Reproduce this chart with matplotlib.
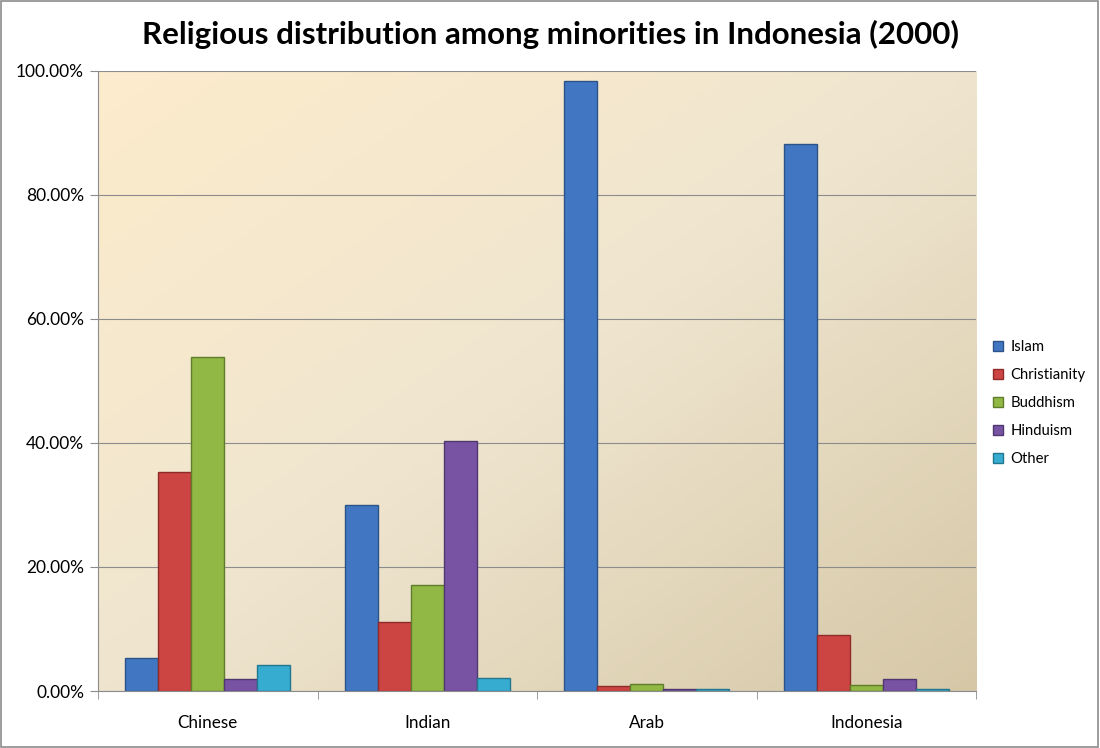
import numpy as np
import matplotlib.pyplot as plt
from matplotlib.colors import LinearSegmentedColormap
from matplotlib.patches import Patch

groups = ["Chinese", "Indian", "Arab", "Indonesia"]
religions = ["Islam", "Christianity", "Buddhism", "Hinduism", "Other"]
islam = [5.4, 30.0, 98.4, 88.2]
christianity = [35.3, 11.1, 0.8, 9.0]
buddhism = [53.9, 17.1, 1.1, 0.9]
hinduism = [1.9, 40.3, 0.3, 1.9]
other = [4.2, 2.1, 0.3, 0.3]
y_ticks = [0, 20, 40, 60, 80, 100]

series = [islam, christianity, buddhism, hinduism, other]
colors = ["#4177c2", "#cc4542", "#91b745", "#7853a4", "#36acd0"]
edges = ["#2b5387", "#8f2b29", "#5f7d2a", "#4f3870", "#22778f"]

plt.rcParams['font.family'] = ['Lato', 'DejaVu Sans']

fig = plt.figure(figsize=(11, 7.48), dpi=100)
ax = fig.add_axes([0.0891, 0.0762, 0.7982, 0.8289])

# gradient background, light top-left to tan bottom-right
n = 200
xx, yy = np.meshgrid(np.linspace(0, 1, n), np.linspace(0, 1, n))
t = np.clip((xx + yy) / 2, 0, 1)
cmap = LinearSegmentedColormap.from_list("bg", ["#fdeccc", "#efe5cf", "#d6c8a7"])
ax.imshow(t, cmap=cmap, extent=[0, 1, 0, 1], transform=ax.transAxes,
          aspect='auto', origin='upper', zorder=0)

x = np.arange(len(groups))
w = 0.15
for i, vals in enumerate(series):
    ax.bar(x + (i - 2) * w, vals, width=w, color=colors[i], edgecolor=edges[i],
           linewidth=1, zorder=3, label=religions[i])

ax.set_xlim(-0.5, len(groups) - 0.5)
ax.set_ylim(0, 100)
ax.set_yticks(y_ticks)
ax.set_yticklabels(["%.2f%%" % v for v in y_ticks], fontsize=12.5)
ax.yaxis.grid(True, color="#8c8c8c", linewidth=0.8, zorder=1)
ax.set_axisbelow(False)

ax.set_xticks(x)
ax.set_xticklabels(groups, fontsize=12.3)
ax.tick_params(axis='x', length=0, pad=17)
ax.set_xticks(np.arange(-0.5, len(groups), 1), minor=True)
ax.tick_params(axis='x', which='minor', length=6, color="#8c8c8c")
ax.tick_params(axis='y', length=6, color="#8c8c8c", pad=4)

for s in ["top", "right"]:
    ax.spines[s].set_visible(False)
for s in ["left", "bottom"]:
    ax.spines[s].set_color("#8c8c8c")
    ax.spines[s].set_zorder(4)

fig.suptitle("Religious distribution among minorities in Indonesia (2000)",
             x=0.5, y=0.973, fontsize=22.5, fontweight='bold')

handles = [Patch(facecolor=colors[i], edgecolor=edges[i]) for i in range(5)]
fig.legend(handles, religions, loc='center left', bbox_to_anchor=(0.891, 0.461),
           frameon=False, fontsize=10.7, handlelength=0.65, handleheight=0.65,
           handletextpad=0.5, labelspacing=0.95)

# outer border
fig.patches.append(plt.Rectangle((0.001, 0.001), 0.997, 0.997, transform=fig.transFigure,
                                 fill=False, edgecolor="#8c8c8c", linewidth=1.2))

fig.savefig("out.png", dpi=100)
